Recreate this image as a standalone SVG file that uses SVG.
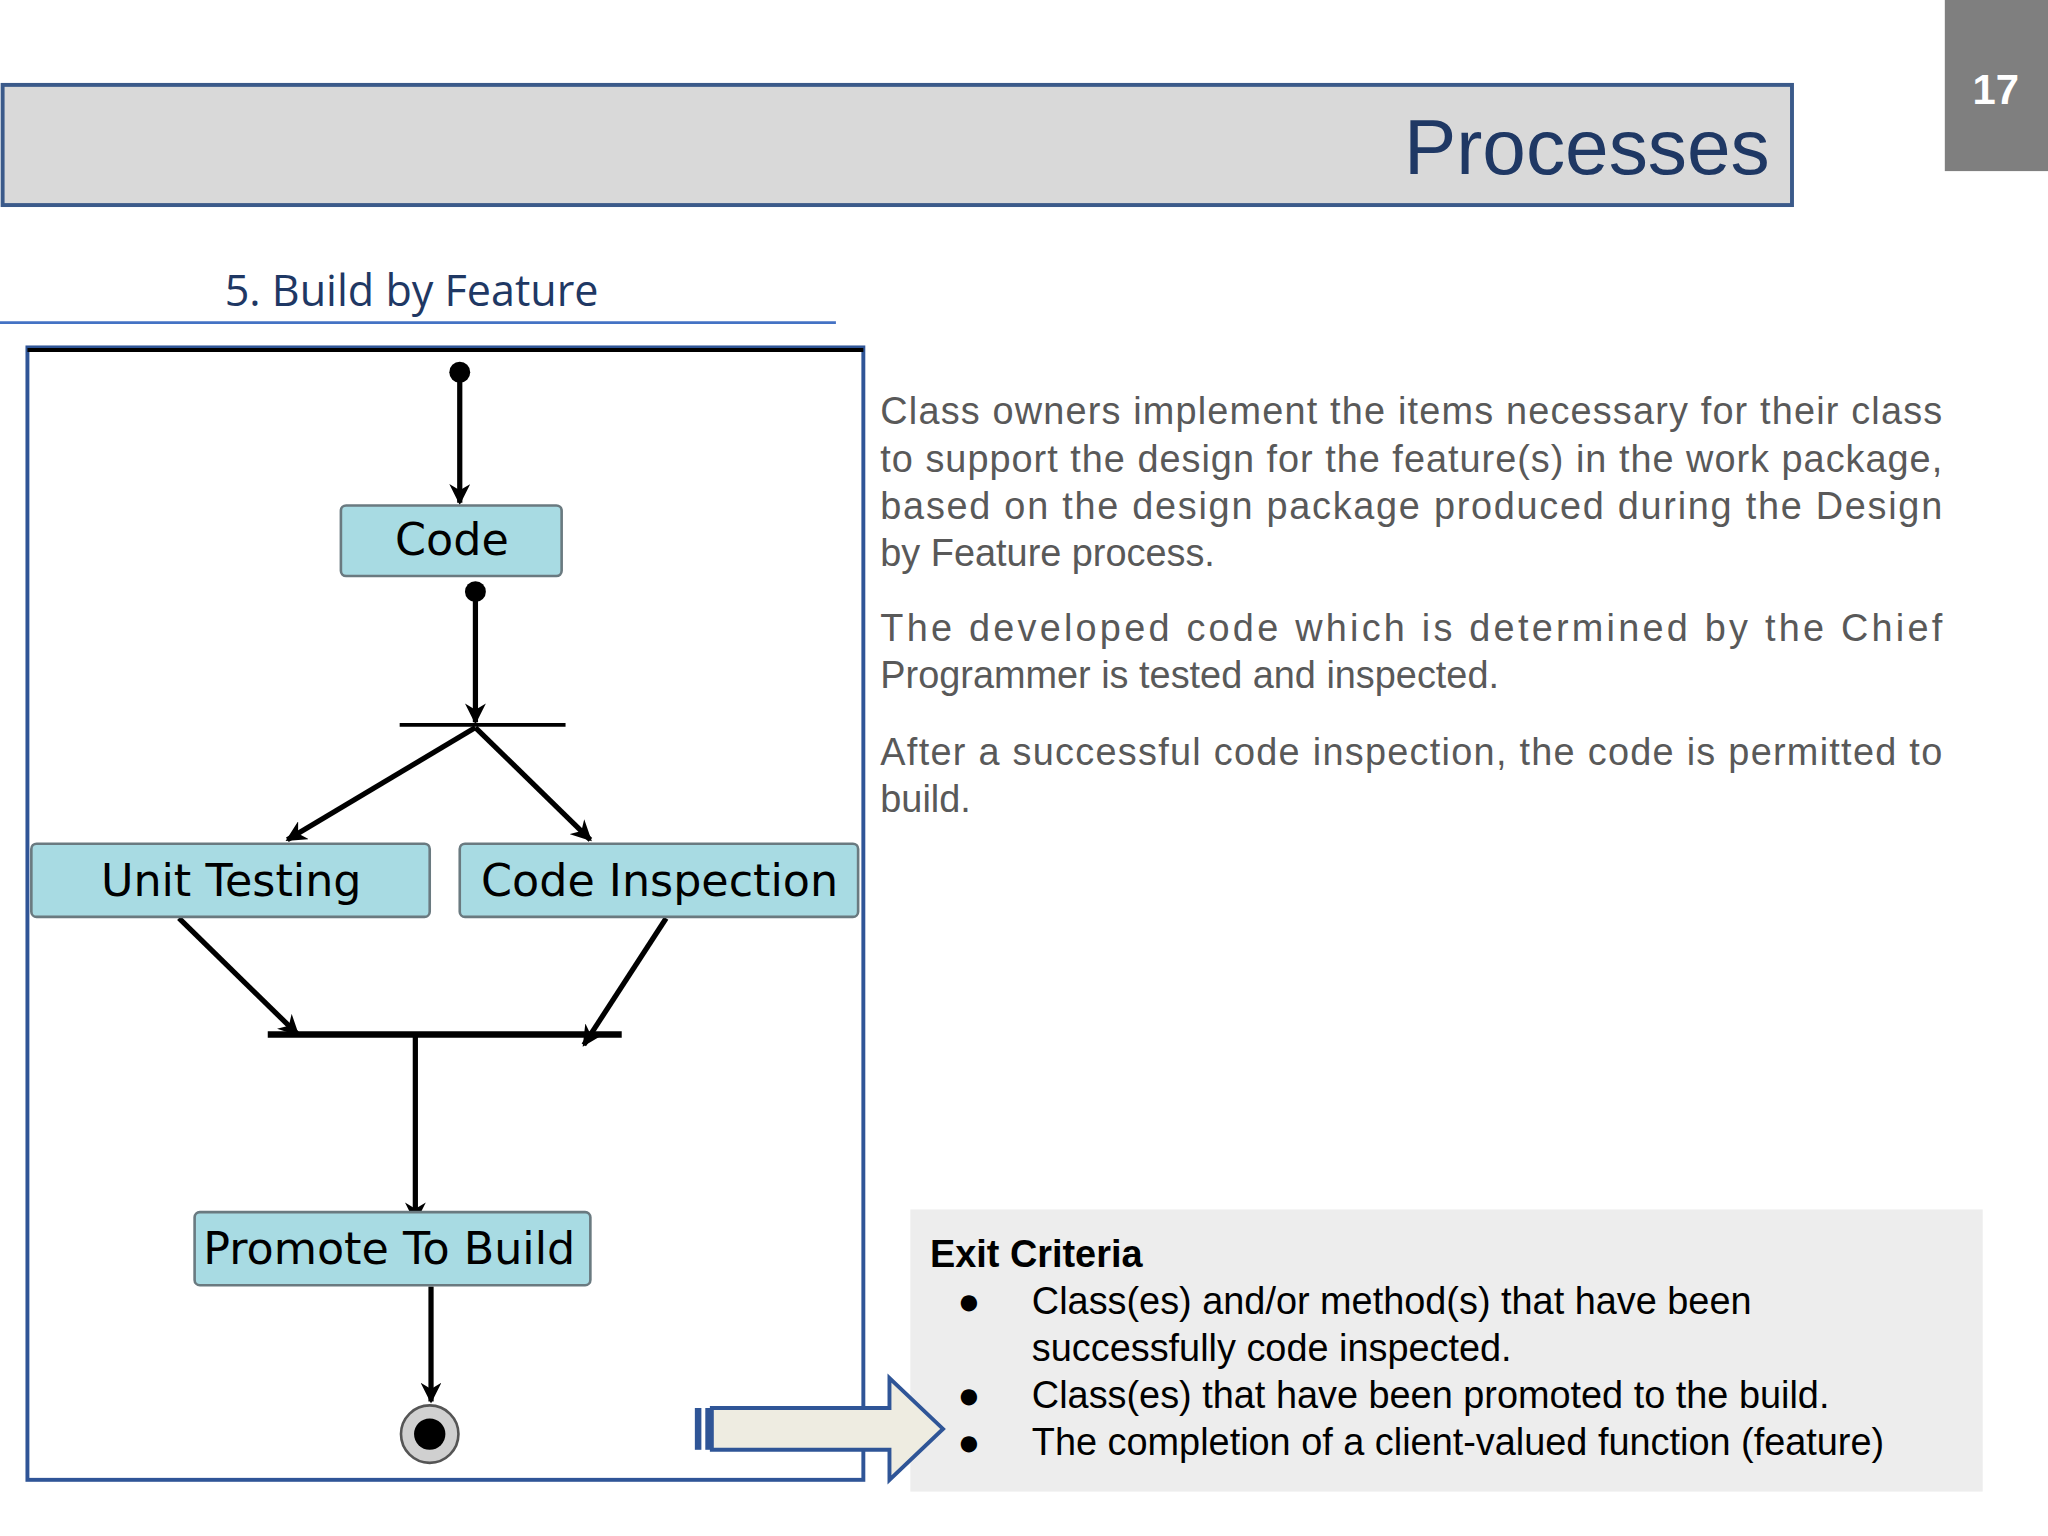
<svg xmlns="http://www.w3.org/2000/svg" width="2048" height="1536" viewBox="0 0 2048 1536">
<defs>
<marker id="ah" viewBox="0 0 10 10" refX="9" refY="5" markerWidth="4" markerHeight="4" orient="auto" markerUnits="strokeWidth"><path d="M0,0 L10,5 L0,10 L3,5 z" fill="#000"/></marker>
<style>
.n{fill:#a8dbe3;stroke:#6a7a80;stroke-width:2}
.nt{font-family:"DejaVu Sans",sans-serif;font-size:34px;fill:#000;text-anchor:middle}
.c{stroke:#000;stroke-width:4;fill:none}
.p{font-family:"Liberation Sans",Arial,sans-serif;font-size:29px;fill:#595959}
.e{font-family:"Liberation Sans",Arial,sans-serif;font-size:29px;fill:#000}
</style>
</defs>
<rect width="2048" height="1536" fill="#fff"/>
<g transform="scale(1.30612)">
<rect x="2" y="65" width="1370" height="92" fill="#d9d9d9" stroke="#3b5a8a" stroke-width="3"/>
<text x="1355" y="133" text-anchor="end" font-family="Liberation Sans,Arial,sans-serif" font-size="60" fill="#1f3864">Processes</text>
<rect x="1489" y="0" width="79" height="131" fill="#7f7f7f"/>
<text x="1528" y="80" text-anchor="middle" font-family="Liberation Sans,Arial,sans-serif" font-weight="bold" font-size="32" fill="#fff">17</text>
<text x="172" y="234" font-family="Open Sans,sans-serif" font-size="33" fill="#1f3864">5. Build by Feature</text>
<line x1="0" y1="247" x2="640" y2="247" stroke="#4472c4" stroke-width="2"/>
<rect x="21" y="266" width="640" height="867" fill="#fff" stroke="#2f5597" stroke-width="3"/>
<line x1="21" y1="268" x2="661" y2="268" stroke="#000" stroke-width="3"/>
<g id="connectors">
<circle cx="352" cy="285" r="8"/>
<line class="c" x1="352" y1="285" x2="352" y2="385" marker-end="url(#ah)"/>
<circle cx="364" cy="453" r="8"/>
<line class="c" x1="364" y1="453" x2="364" y2="553" marker-end="url(#ah)"/>
<line x1="306" y1="555" x2="433" y2="555" stroke="#000" stroke-width="3"/>
<line class="c" x1="364" y1="557" x2="220" y2="643" marker-end="url(#ah)"/>
<line class="c" x1="364" y1="557" x2="452" y2="643" marker-end="url(#ah)"/>
<line class="c" x1="137" y1="703" x2="228" y2="792" marker-end="url(#ah)"/>
<line class="c" x1="510" y1="703" x2="447" y2="800" marker-end="url(#ah)"/>
<line x1="205" y1="792" x2="476" y2="792" stroke="#000" stroke-width="5"/>
<line class="c" x1="318" y1="792" x2="318" y2="935" marker-end="url(#ah)"/>
<line class="c" x1="330" y1="985" x2="330" y2="1073" marker-end="url(#ah)"/>
</g>
<g id="code"><rect class="n" x="261" y="387" width="169" height="54" rx="4"/><text class="nt" x="346" y="425">Code</text></g>
<g id="unit"><rect class="n" x="24" y="646" width="305" height="56" rx="4"/><text class="nt" x="177" y="686">Unit Testing</text></g>
<g id="insp"><rect class="n" x="352" y="646" width="305" height="56" rx="4"/><text class="nt" x="505" y="686">Code Inspection</text></g>
<g id="promote"><rect class="n" x="149" y="928" width="303" height="56" rx="4"/><text class="nt" x="298" y="968">Promote To Build</text></g>
<g id="end"><circle cx="329" cy="1098" r="22" fill="#d0d0d0" stroke="#555" stroke-width="2"/><circle cx="329" cy="1098" r="12" fill="#000"/></g>
<g class="p">
<text x="674" y="325" textLength="813" lengthAdjust="spacing">Class owners implement the items necessary for their class</text>
<text x="674" y="361" textLength="813" lengthAdjust="spacing">to support the design for the feature(s) in the work package,</text>
<text x="674" y="397" textLength="813" lengthAdjust="spacing">based on the design package produced during the Design</text>
<text x="674" y="433">by Feature process.</text>
<text x="674" y="491" textLength="813" lengthAdjust="spacing">The developed code which is determined by the Chief</text>
<text x="674" y="527">Programmer is tested and inspected.</text>
<text x="674" y="586" textLength="813" lengthAdjust="spacing">After a successful code inspection, the code is permitted to</text>
<text x="674" y="622">build.</text>
</g>
<rect x="697" y="926" width="821" height="216" fill="#ededed"/>
<g class="e">
<text x="712" y="970" font-weight="bold">Exit Criteria</text>
<text x="733" y="1006">●</text><text x="790" y="1006">Class(es) and/or method(s) that have been</text>
<text x="790" y="1042">successfully code inspected.</text>
<text x="733" y="1078">●</text><text x="790" y="1078">Class(es) that have been promoted to the build.</text>
<text x="733" y="1114">●</text><text x="790" y="1114">The completion of a client-valued function (feature)</text>
</g>
<path d="M545,1078 L681,1078 L681,1055 L722,1094 L681,1133 L681,1110 L545,1110 Z" fill="#eeece1" stroke="#2f5597" stroke-width="3"/>
<rect x="532" y="1078" width="5" height="32" fill="#2f5597"/>
<rect x="540" y="1078" width="4" height="32" fill="#2f5597"/>
</g>
</svg>
